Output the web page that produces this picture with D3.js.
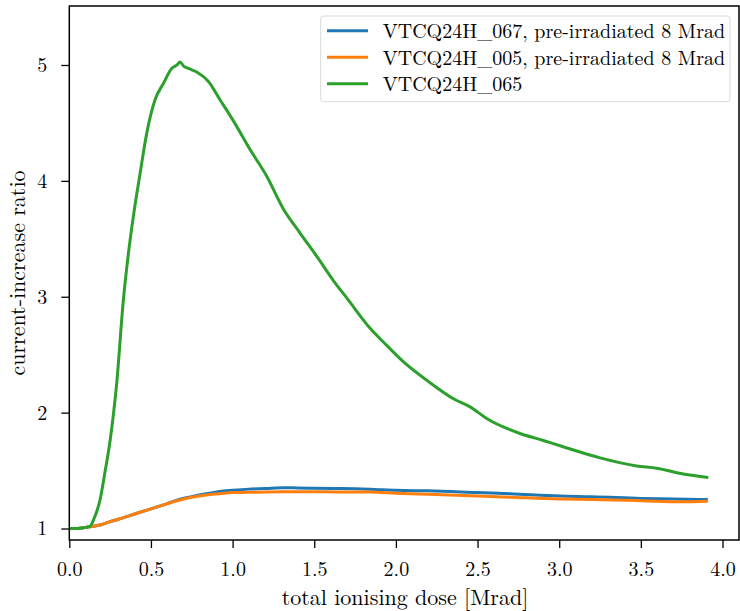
<!DOCTYPE html>
<html><head><meta charset="utf-8">
<script src="https://cdn.jsdelivr.net/npm/d3@7"></script>
<style>body{margin:0;background:#fff}svg{display:block}text{font-family:"Latin Modern Roman","Liberation Serif",serif;fill:#000}</style>
</head><body>
<svg id="c" width="740" height="611"></svg>
<script>
const xTicks=[0,0.5,1.0,1.5,2.0,2.5,3.0,3.5,4.0];
const yTicks=[1,2,3,4,5];
const seriesNames=["VTCQ24H_067, pre-irradiated 8 Mrad","VTCQ24H_005, pre-irradiated 8 Mrad","VTCQ24H_065"];
const seriesColors=["#1f77b4","#ff7f0e","#2ca02c"];
const doseBlue=[0,0.05,0.1,0.15,0.2,0.25,0.3,0.4,0.5,0.6,0.66,0.75,0.84,0.92,1.0,1.1,1.2,1.31,1.4,1.5,1.62,1.75,1.84,2.0,2.2,2.5,2.7,3.0,3.2,3.5,3.7,3.91];
const ratioBlue=[1.0,1.0,1.01,1.02,1.035,1.06,1.08,1.125,1.17,1.215,1.245,1.275,1.30,1.32,1.33,1.34,1.345,1.352,1.35,1.348,1.345,1.343,1.34,1.33,1.325,1.31,1.30,1.28,1.275,1.26,1.255,1.25];
const doseOrange=[0,0.05,0.1,0.15,0.2,0.25,0.3,0.4,0.5,0.6,0.66,0.75,0.84,0.92,1.0,1.1,1.2,1.31,1.4,1.5,1.62,1.75,1.84,2.0,2.2,2.5,2.7,3.0,3.2,3.5,3.75,3.91];
const ratioOrange=[1.0,1.0,1.01,1.02,1.035,1.06,1.08,1.125,1.17,1.215,1.24,1.27,1.29,1.30,1.31,1.312,1.315,1.318,1.318,1.318,1.316,1.315,1.315,1.305,1.295,1.28,1.27,1.255,1.25,1.24,1.23,1.235];
const doseGreen=[0,0.05,0.1,0.127,0.15,0.188,0.22,0.25,0.29,0.331,0.36,0.392,0.433,0.474,0.525,0.576,0.627,0.66,0.678,0.70,0.729,0.78,0.851,0.923,1.004,1.107,1.209,1.31,1.413,1.515,1.617,1.699,1.841,1.944,2.045,2.198,2.352,2.454,2.556,2.76,2.903,3.015,3.25,3.474,3.597,3.76,3.913];
const ratioGreen=[1.0,1.0,1.01,1.02,1.08,1.246,1.5,1.76,2.25,2.97,3.35,3.69,4.06,4.41,4.70,4.84,4.97,5.0,5.025,4.99,4.97,4.94,4.86,4.70,4.52,4.27,4.04,3.76,3.55,3.35,3.14,2.99,2.73,2.58,2.44,2.27,2.12,2.05,1.95,1.82,1.76,1.71,1.61,1.54,1.52,1.47,1.44];

const svg=d3.select("#c");
const L=69.3,R=739,T=6,B=540;
const x=d3.scaleLinear().domain([0,4.101]).range([L,R]);
const y=d3.scaleLinear().domain([0.901,5.509]).range([B,T]);

const series=[[doseBlue,ratioBlue],[doseOrange,ratioOrange],[doseGreen,ratioGreen]];
const line=d3.line().x(d=>x(d[0])).y(d=>y(d[1])).curve(d3.curveMonotoneX);
const plot=svg.append("g");
series.forEach((s,i)=>{
  const pts=s[0].map((v,j)=>[v,s[1][j]]);
  plot.append("path").attr("d",line(pts)).attr("fill","none").attr("stroke",seriesColors[i]).attr("stroke-width",3).attr("stroke-linejoin","round").attr("stroke-linecap","butt");
});

const xa=svg.append("g").attr("transform",`translate(0,${B})`).call(d3.axisBottom(x).tickValues(xTicks).tickFormat(d3.format(".1f")).tickSize(8).tickPadding(14));
const ya=svg.append("g").attr("transform",`translate(${L},0)`).call(d3.axisLeft(y).tickValues(yTicks).tickFormat(d3.format("d")).tickSize(8).tickPadding(14));
[xa,ya].forEach(a=>{a.select(".domain").remove();a.selectAll("line").attr("stroke","#000").attr("stroke-width",1.3);a.selectAll("text").attr("font-size",20).attr("font-family","Latin Modern Roman, Liberation Serif, serif").attr("fill","#000");});

svg.append("rect").attr("x",L).attr("y",T).attr("width",R-L).attr("height",B-T).attr("fill","none").attr("stroke","#000").attr("stroke-width",1.5);

svg.append("text").attr("x",405).attr("y",605).attr("text-anchor","middle").attr("font-size",22).text("total ionising dose [Mrad]");
svg.append("text").attr("transform",`translate(25,${(T+B)/2}) rotate(-90)`).attr("text-anchor","middle").attr("font-size",22).text("current-increase ratio");

const lg=svg.append("g");
lg.append("rect").attr("x",320.7).attr("y",16).attr("width",409.3).attr("height",85.7).attr("rx",3).attr("fill","#fff").attr("fill-opacity",0.8).attr("stroke","#d9d9d9").attr("stroke-width",1);
seriesNames.forEach((n,i)=>{
  const yy=30.8+26.5*i;
  lg.append("line").attr("x1",327).attr("x2",368).attr("y1",yy).attr("y2",yy).attr("stroke",seriesColors[i]).attr("stroke-width",3);
  lg.append("text").attr("x",382.7).attr("y",yy+7.5).attr("font-size",20).text(n);
});
</script>
</body></html>
